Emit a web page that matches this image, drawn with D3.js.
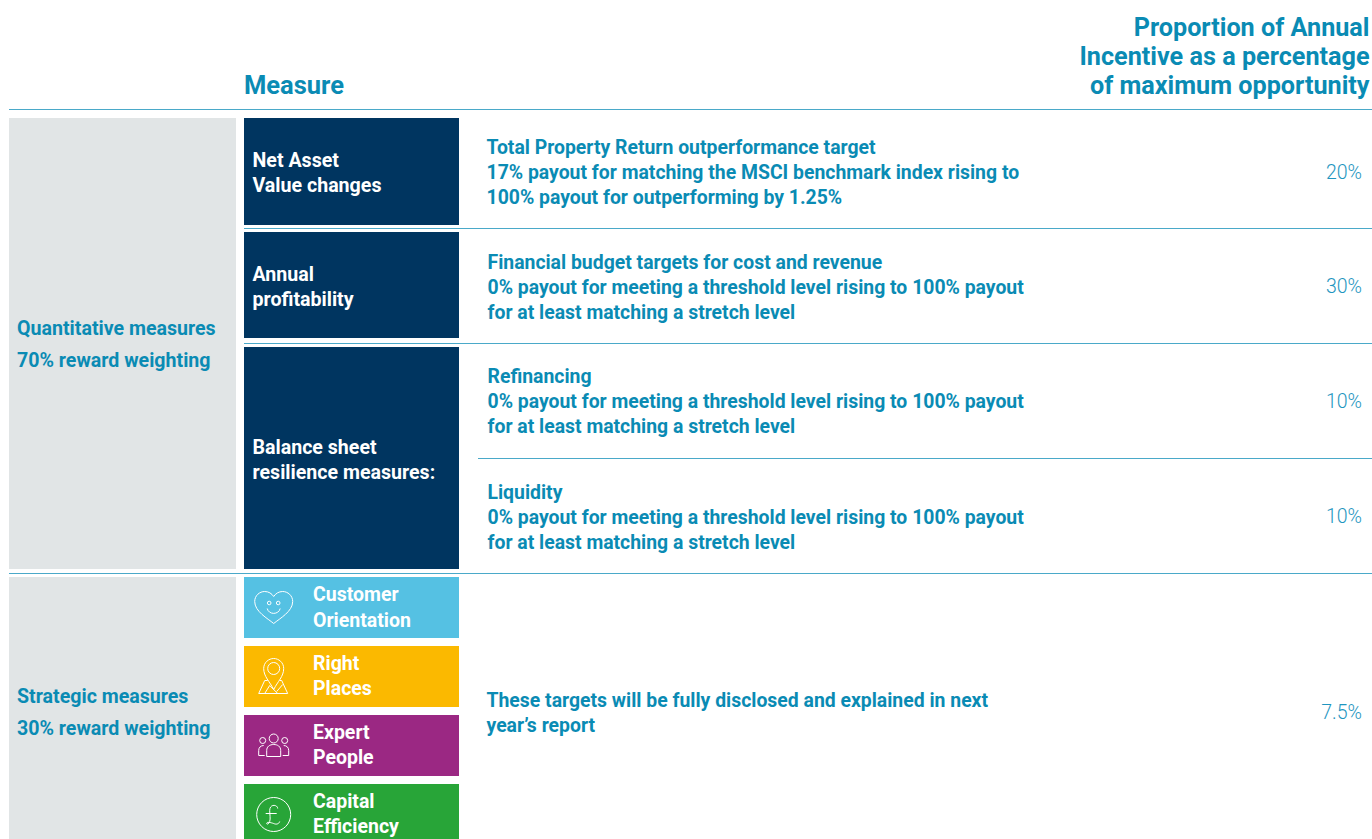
<!DOCTYPE html>
<html>
<head>
<meta charset="utf-8">
<script src="https://cdn.jsdelivr.net/npm/d3@7"></script>
<style>
  html, body { margin: 0; padding: 0; background: #fff; overflow: hidden; }
  svg { display: block; }
  text { font-family: Roboto, sans-serif; font-weight: 700; }
</style>
</head>
<body>
<svg></svg>
<script>
let width = 1372, height = 839;

// Table contents
const headerRight = ["Proportion of Annual", "Incentive as a percentage", "of maximum opportunity"];
const groups = ["Quantitative", "Strategic"];
const groupLabels = [["Quantitative measures", "70% reward weighting"], ["Strategic measures", "30% reward weighting"]];
const blocks = ["nav", "profit", "balance"];
const blockLabels = [["Net Asset", "Value changes"], ["Annual", "profitability"], ["Balance sheet", "resilience measures:"]];
const tiles = ["customer", "places", "people", "capital"];
const tileLabels = [["Customer", "Orientation"], ["Right", "Places"], ["Expert", "People"], ["Capital", "Efficiency"]];
const rows = ["nav", "profit", "refi", "liquidity", "strategic"];
const rowText = [
    ["Total Property Return outperformance target", "17% payout for matching the MSCI benchmark index rising to", "100% payout for outperforming by 1.25%"],
    ["Financial budget targets for cost and revenue", "0% payout for meeting a threshold level rising to 100% payout", "for at least matching a stretch level"],
    ["Refinancing", "0% payout for meeting a threshold level rising to 100% payout", "for at least matching a stretch level"],
    ["Liquidity", "0% payout for meeting a threshold level rising to 100% payout", "for at least matching a stretch level"],
    ["These targets will be fully disclosed and explained in next", "year\u2019s report"]
];
const rowShare = [20, 30, 10, 10, 7.5];

const blue = "#0a8bb4", rule = "#4aa9c9", navy = "#003560", grey = "#e1e5e6";
const tileColor = d3.scaleOrdinal().domain(tiles).range(["#55c1e3", "#fbb900", "#9b2883", "#28a538"]);

// Layout scales
const groupTop = d3.scaleOrdinal().domain(groups).range([118, 577]);
const groupBottom = d3.scaleOrdinal().domain(groups).range([569, 839]);
const groupText = d3.scaleOrdinal().domain(groups).range([335, 703]);
const blockTop = d3.scaleOrdinal().domain(blocks).range([118, 232, 347]);
const blockBottom = d3.scaleOrdinal().domain(blocks).range([225, 338, 569]);
const blockText = d3.scaleOrdinal().domain(blocks).range([166.5, 280.5, 453.5]);
const tileTop = d3.scaleOrdinal().domain(tiles).range([577, 646, 715, 784]);
const tileStep = d3.scaleOrdinal().domain(tiles).range([26, 25, 25, 25]);
const rowBase = d3.scaleOrdinal().domain(rows).range([153.5, 268.5, 382.5, 498.5, 706.5]);
const rowX = d3.scaleOrdinal().domain(rows).range([486.5, 487.5, 487.5, 487.5, 486.5]);
const shareY = d3.scaleOrdinal().domain(rows).range([178.5, 292.5, 407.5, 522.5, 718.5]);

let svg = d3.select("svg")
    .attr("width", width)
    .attr("height", height)
    .attr("viewBox", "0 0 " + width + " " + height);

// Header
svg.append("text").attr("x", 244).attr("y", 94)
    .attr("font-size", 25.5).attr("fill", blue).text("Measure");
svg.append("g").selectAll("text").data(headerRight).enter().append("text")
    .attr("x", 1369.5).attr("y", (d, i) => 36 + i * 29)
    .attr("text-anchor", "end").attr("font-size", 25.2).attr("fill", blue).text(d => d);

// Group panels
svg.append("g").selectAll("rect").data(groups).enter().append("rect")
    .attr("x", 9).attr("width", 227)
    .attr("y", d => groupTop(d))
    .attr("height", d => groupBottom(d) - groupTop(d))
    .attr("fill", grey);

groups.forEach((g, i) => {
    svg.append("g").selectAll("text").data(groupLabels[i]).enter().append("text")
        .attr("x", 17).attr("y", (d, j) => groupText(g) + j * 32)
        .attr("font-size", 19.6).attr("fill", blue).text(d => d);
});

// Navy blocks
svg.append("g").selectAll("rect").data(blocks).enter().append("rect")
    .attr("x", 244).attr("width", 215)
    .attr("y", d => blockTop(d))
    .attr("height", d => blockBottom(d) - blockTop(d))
    .attr("fill", navy);

blocks.forEach((b, i) => {
    svg.append("g").selectAll("text").data(blockLabels[i]).enter().append("text")
        .attr("x", 252.5).attr("y", (d, j) => blockText(b) + j * 25)
        .attr("font-size", 19.6).attr("fill", "#fff").text(d => d);
});

// Coloured tiles
svg.append("g").selectAll("rect").data(tiles).enter().append("rect")
    .attr("x", 244).attr("width", 215)
    .attr("y", d => tileTop(d))
    .attr("height", d => Math.min(61, height - tileTop(d)))
    .attr("fill", d => tileColor(d));

tiles.forEach((t, i) => {
    svg.append("g").selectAll("text").data(tileLabels[i]).enter().append("text")
        .attr("x", 313).attr("y", (d, j) => tileTop(t) + 23.5 + j * tileStep(t))
        .attr("font-size", 19.5).attr("fill", "#fff").text(d => d);
});

// Icons for the tiles, drawn around the centre of each icon
function iconGroup(t) {
    return svg.append("g")
        .attr("transform", "translate(273.7," + (tileTop(t) + 30.5) + ")")
        .attr("fill", "none").attr("stroke", "#fff").attr("stroke-width", 1);
}

let heart = iconGroup("customer");
heart.append("path").attr("d", "M0,16C-6,11 -19,4 -19,-6C-19,-12 -14,-16 -9,-16C-5,-16 -2,-14 0,-11C2,-14 5,-16 9,-16C14,-16 19,-12 19,-6C19,4 6,11 0,16Z");
heart.append("circle").attr("cx", -4.5).attr("cy", -4.5).attr("r", 1.8);
heart.append("circle").attr("cx", 4.5).attr("cy", -4.5).attr("r", 1.8);
heart.append("path").attr("d", "M-6.5,1C-5,7.5 5,7.5 6.5,1");

let pin = iconGroup("places");
pin.append("path").attr("d", "M0,13C-4,5 -10,0 -10,-8C-10,-14 -5,-18 0,-18C5,-18 10,-14 10,-8C10,0 4,5 0,13Z");
pin.append("circle").attr("cx", 0).attr("cy", -8).attr("r", 6);
pin.append("path").attr("d", "M-6,4L-9,4L-15,17L14,17L8,4L6,4M-9,17L-4,9L4,17M3,15L9,8");

let people = iconGroup("people");
people.append("circle").attr("cx", 0).attr("cy", -7).attr("r", 4.5);
people.append("circle").attr("cx", -11).attr("cy", -5).attr("r", 3);
people.append("circle").attr("cx", 11).attr("cy", -5).attr("r", 3);
people.append("path").attr("d", "M-7,11L-7,5C-7,1 -4,-1 0,-1C4,-1 7,1 7,5L7,11Z");
people.append("path").attr("d", "M-9,10L-15,10L-15,5C-15,2 -13,0 -10,0");
people.append("path").attr("d", "M9,10L15,10L15,5C15,2 13,0 10,0");

let pound = iconGroup("capital");
pound.append("circle").attr("r", 17);
pound.append("path").attr("d", "M4,-6C4,-10 -4,-11 -4,-4C-4,0 -3,4 -4,7C-5,10 -7,10 -7,9C-7,7 -3,8 0,9C2,10 5,10 6,7M-8,-1L3,-1");

// Row rules
const ruleLines = [[9, 1372, 109], [244, 1372, 228], [244, 1372, 343], [478, 1372, 458], [9, 1372, 573]];
svg.append("g").selectAll("line").data(ruleLines).enter().append("line")
    .attr("x1", d => d[0]).attr("x2", d => d[1])
    .attr("y1", d => d[2] + 0.5).attr("y2", d => d[2] + 0.5)
    .attr("stroke", rule).attr("stroke-width", 1.2);

// Measure descriptions and share of incentive
rows.forEach((r, i) => {
    svg.append("g").selectAll("text").data(rowText[i]).enter().append("text")
        .attr("x", rowX(r)).attr("y", (d, j) => rowBase(r) + j * 25)
        .attr("font-size", 19.4).attr("fill", blue).text(d => d);
});

svg.append("g").selectAll("text").data(rows).enter().append("text")
    .attr("x", 1362).attr("y", d => shareY(d))
    .attr("text-anchor", "end").attr("font-size", 19.5)
    .style("font-weight", 300).attr("fill", "#1f96c0")
    .text((d, i) => rowShare[i] + "%");
</script>
</body>
</html>
